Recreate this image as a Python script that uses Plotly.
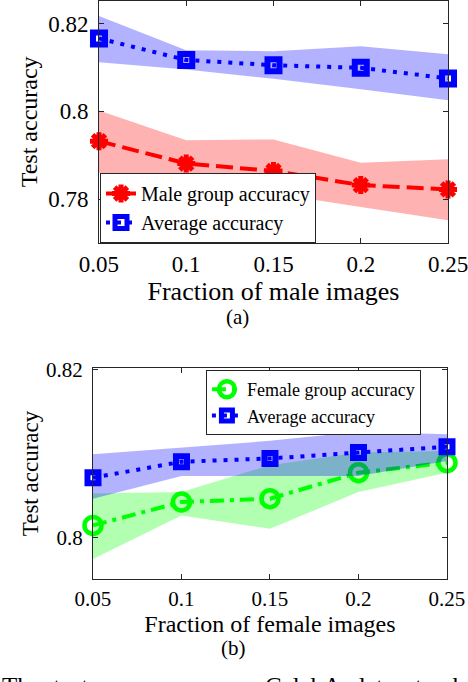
import plotly.graph_objects as go

# x positions (fraction of minority-group images)
fractions = [0.05, 0.1, 0.15, 0.2, 0.25]
frac_labels = ["0.05", "0.1", "0.15", "0.2", "0.25"]

# (a) fraction of male images
male_acc = [0.7932, 0.7881, 0.7864, 0.7832, 0.7822]
male_hi = [0.8002, 0.7934, 0.7936, 0.7883, 0.7891]
male_lo = [0.7860, 0.7832, 0.7813, 0.7782, 0.7752]
avg_a = [0.8166, 0.8117, 0.8105, 0.8099, 0.8075]
avg_a_hi = [0.8217, 0.8139, 0.8137, 0.8148, 0.8130]
avg_a_lo = [0.8112, 0.8095, 0.8074, 0.8050, 0.8025]
yticks_a = [0.78, 0.8, 0.82]
ylabels_a = ["0.78", "0.8", "0.82"]

# (b) fraction of female images
female_acc = [0.8014, 0.8042, 0.8046, 0.8077, 0.8089]
female_hi = [0.8052, 0.8054, 0.8086, 0.8101, 0.8103]
female_lo = [0.7974, 0.8026, 0.8010, 0.8054, 0.8077]
avg_b = [0.8071, 0.8090, 0.8094, 0.8101, 0.8108]
avg_b_hi = [0.8099, 0.8107, 0.8115, 0.8126, 0.8123]
avg_b_lo = [0.8046, 0.8073, 0.8073, 0.8073, 0.8091]
yticks_b = [0.8, 0.82]
ylabels_b = ["0.8", "0.82"]

SERIF = "Liberation Serif"
RED = "#ff0000"
BLUE = "#0000ff"
GREEN = "#00ff00"


def band(x, hi, lo, color, xa, ya):
    return go.Scatter(
        x=x + x[::-1], y=hi + lo[::-1], xaxis=xa, yaxis=ya,
        fill="toself", fillcolor=color, line=dict(width=0),
        mode="lines", showlegend=False, hoverinfo="skip",
    )


fig = go.Figure()

# ---- panel (a)
fig.add_trace(band(fractions, male_hi, male_lo, "rgba(255,0,0,0.3)", "x", "y"))
fig.add_trace(go.Scatter(
    x=fractions, y=male_acc, xaxis="x", yaxis="y", name="Male group accuracy",
    mode="lines+markers", cliponaxis=False, legend="legend",
    line=dict(color=RED, width=4, dash="17px,7px"),
    marker=dict(symbol="asterisk-open", size=15, color=RED, line=dict(color=RED, width=5)),
))
fig.add_trace(band(fractions, avg_a_hi, avg_a_lo, "rgba(0,0,255,0.3)", "x", "y"))
fig.add_trace(go.Scatter(
    x=fractions, y=avg_a, xaxis="x", yaxis="y", name="Average accuracy",
    mode="lines+markers", cliponaxis=False, legend="legend",
    line=dict(color=BLUE, width=4, dash="4px,7px"),
    marker=dict(symbol="square-open", size=12, color=BLUE, line=dict(color=BLUE, width=6)),
))

# ---- panel (b)
fig.add_trace(band(fractions, female_hi, female_lo, "rgba(0,255,0,0.3)", "x2", "y2"))
fig.add_trace(go.Scatter(
    x=fractions, y=female_acc, xaxis="x2", yaxis="y2", name="Female group accuracy",
    mode="lines+markers", cliponaxis=False, legend="legend2",
    line=dict(color=GREEN, width=4, dash="14px,6px,4px,6px"),
    marker=dict(symbol="circle-open", size=17, color=GREEN, line=dict(color=GREEN, width=4.5)),
))
fig.add_trace(band(fractions, avg_b_hi, avg_b_lo, "rgba(0,0,255,0.3)", "x2", "y2"))
fig.add_trace(go.Scatter(
    x=fractions, y=avg_b, xaxis="x2", yaxis="y2", name="Average accuracy",
    mode="lines+markers", cliponaxis=False, legend="legend2",
    line=dict(color=BLUE, width=4, dash="4px,7px"),
    marker=dict(symbol="square-open", size=11, color=BLUE, line=dict(color=BLUE, width=6)),
))

common_x = dict(
    range=[0.05, 0.25], tickvals=fractions, ticktext=frac_labels,
    ticks="inside", ticklen=5, tickcolor="#262626", showline=True,
    linecolor="#262626", linewidth=1, mirror="ticks", showgrid=False,
    zeroline=False, automargin=False, ticklabeloverflow="allow",
)
common_y = dict(
    ticks="inside", ticklen=5, tickcolor="#262626", showline=True,
    linecolor="#262626", linewidth=1, mirror="ticks", showgrid=False,
    zeroline=False, automargin=False, ticklabelstandoff=5,
)

fig.update_layout(
    width=468, height=682,
    margin=dict(l=0, r=0, t=0, b=0),
    paper_bgcolor="white", plot_bgcolor="white",
    font=dict(family=SERIF, color="black"),
    xaxis=dict(
        common_x, domain=[0.2115, 0.9573], anchor="y",
        tickfont=dict(size=23), ticklabelstandoff=0,
        title=dict(text="Fraction of male images", font=dict(size=26), standoff=6),
    ),
    yaxis=dict(
        common_y, domain=[0.6437, 0.999], anchor="x", range=[0.77, 0.8252],
        tickvals=yticks_a, ticktext=ylabels_a, tickfont=dict(size=23),
        title=dict(text="Test accuracy", font=dict(size=24), standoff=3),
    ),
    xaxis2=dict(
        common_x, domain=[0.1987, 0.9551], anchor="y2",
        tickfont=dict(size=21), ticklabelstandoff=1,
        title=dict(text="Fraction of female images", font=dict(size=24), standoff=0),
    ),
    yaxis2=dict(
        common_y, domain=[0.1510, 0.4604], anchor="x2", range=[0.795, 0.8202],
        tickvals=yticks_b, ticktext=ylabels_b, tickfont=dict(size=21),
        title=dict(text="Test accuracy", font=dict(size=23), standoff=0),
    ),
    legend=dict(
        x=0.2137, y=0.6437, xanchor="left", yanchor="bottom",
        bgcolor="white", bordercolor="#262626", borderwidth=1,
        font=dict(size=20), tracegroupgap=0, itemwidth=30,
    ),
    legend2=dict(
        x=0.440, y=0.4575, xanchor="left", yanchor="top",
        bgcolor="white", bordercolor="#262626", borderwidth=1,
        font=dict(size=18), tracegroupgap=0, itemwidth=30,
    ),
    annotations=[
        dict(text="(a)", x=0.5085, y=0.5352, xref="paper", yref="paper",
             xanchor="center", yanchor="middle", showarrow=False, font=dict(size=21)),
        dict(text="(b)", x=0.498, y=0.0499, xref="paper", yref="paper",
             xanchor="center", yanchor="middle", showarrow=False, font=dict(size=21)),
        dict(text="The  test  accuracy  on", x=0.0, y=0.0167, xref="paper", yref="paper",
             xanchor="left", yanchor="top", showarrow=False, font=dict(size=25)),
        dict(text="CelebA  dataset  when", x=0.562, y=0.0167, xref="paper", yref="paper",
             xanchor="left", yanchor="top", showarrow=False, font=dict(size=25)),
    ],
)

# page body has an 8px default margin; drop it so the figure sits at the corner
fig.write_html(
    "out.html",
    config={"displayModeBar": False},
    post_script="document.body.style.margin = '0';",
)
